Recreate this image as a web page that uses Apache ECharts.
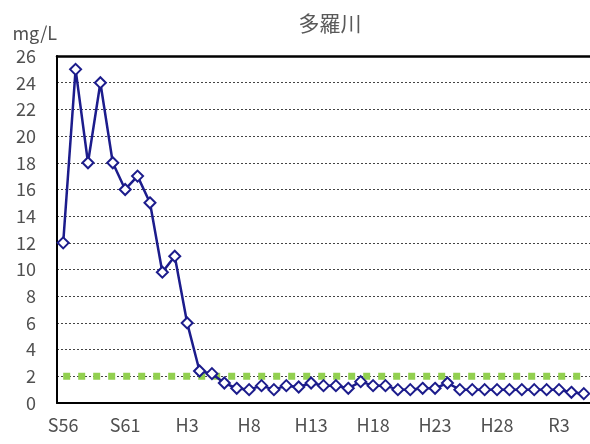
<!DOCTYPE html>
<html><head><meta charset="utf-8">
<script src="https://cdn.jsdelivr.net/npm/echarts@6/dist/echarts.min.js"></script>
<style>html,body{margin:0;padding:0;background:#fff}#c{width:590px;height:444px}</style>
</head><body><div id="c"></div>
<script>
var years = ['S56','S57','S58','S59','S60','S61','S62','S63','H1','H2','H3','H4','H5','H6','H7','H8','H9','H10','H11','H12','H13','H14','H15','H16','H17','H18','H19','H20','H21','H22','H23','H24','H25','H26','H27','H28','H29','H30','R1','R2','R3','R4','R5'];
var values = [12,25,18,24,18,16,17,15,9.8,11,6,2.4,2.2,1.5,1.1,1.0,1.3,1.0,1.3,1.2,1.5,1.3,1.3,1.1,1.6,1.3,1.3,1.0,1.0,1.1,1.1,1.5,1.0,1.0,1.0,1.0,1.0,1.0,1.0,1.0,1.0,0.8,0.7];
var standard = years.map(function(){return 2;});
var yTicks = [0,2,4,6,8,10,12,14,16,18,20,22,24,26];
var labelShown = ['S56','S61','H3','H8','H13','H18','H23','H28','R3'];

var font = '"Noto Sans CJK JP", "Noto Sans", sans-serif';
var chart = echarts.init(document.getElementById('c'), null, {renderer:'canvas'});
chart.setOption({
  animation:false,
  title:{text:'多羅川', left:325, top:8, textAlign:'center',
    textStyle:{fontFamily:font, fontSize:21, fontWeight:'normal', color:'#595959'}},
  grid:{left:57, top:56, right:-2, bottom:41},
  xAxis:[{
    type:'category', data:years, boundaryGap:true,
    axisLine:{lineStyle:{color:'#000', width:2}},
    axisTick:{inside:true, length:6, interval:0, lineStyle:{color:'#000', width:1}},
    axisLabel:{interval:0, margin:13, fontFamily:font, fontSize:18, color:'#505050',
      formatter:function(v){return labelShown.indexOf(v)>=0?v:'';}},
    splitLine:{show:false}
  },{
    type:'category', data:years, position:'top',
    axisLine:{onZero:false, lineStyle:{color:'#000', width:2.5}},
    axisTick:{show:false}, axisLabel:{show:false}, splitLine:{show:false}
  }],
  yAxis:{
    type:'value', min:0, max:26, interval:2,
    name:'mg/L', nameLocation:'end', nameGap:14,
    nameTextStyle:{fontFamily:font, fontSize:18, color:'#505050', align:'right', padding:[0,0,0,0]},
    axisLine:{show:true, lineStyle:{color:'#000', width:2}},
    axisTick:{show:false},
    axisLabel:{margin:21, fontFamily:font, fontSize:18, color:'#505050',
      formatter:function(v){return yTicks.indexOf(v)>=0?String(v):'';}},
    splitLine:{show:true, lineStyle:{color:'#444', width:1, type:[2,2]}}
  },
  series:[{
    type:'line', data:standard, symbol:'none', z:2,
    lineStyle:{color:'#92D050', width:7, type:[7,8]}
  },{
    type:'line', data:values, symbol:'diamond', symbolSize:11, z:3,
    lineStyle:{color:'#1C1C8C', width:2.5},
    itemStyle:{color:'#fff', borderColor:'#1C1C8C', borderWidth:2}
  }]
});
</script></body></html>
